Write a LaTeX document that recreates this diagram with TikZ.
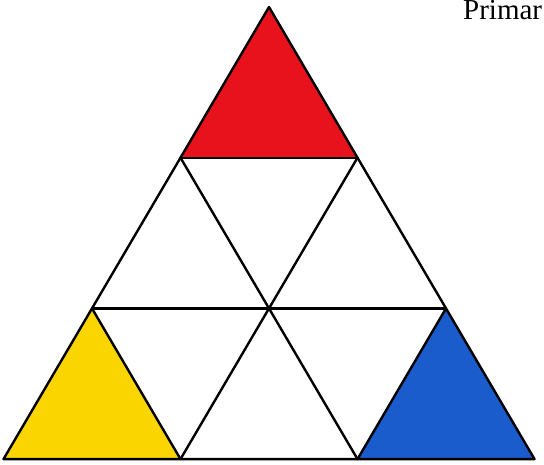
\documentclass[tikz,border=0pt]{standalone}
\usepackage{fontspec}
\setmainfont{Liberation Serif}
\usetikzlibrary{calc}
\definecolor{prired}{HTML}{E8121C}
\definecolor{priyel}{HTML}{FAD500}
\definecolor{priblu}{HTML}{1A5CCB}
\tikzset{
  tri/.style={fill=#1, draw=none},
  edge/.style={draw=black, line width=2.4pt, line join=round, line cap=round},
  lbl/.style={font=\fontsize{29}{32}\selectfont, anchor=base west, inner sep=0pt},
}
\begin{document}
\begin{tikzpicture}[x=1pt,y=-1pt]
  \useasboundingbox (0,0) rectangle (544,464);
  % lattice points, row \i from the apex
  \foreach \i in {0,...,3}{
    \foreach \j in {0,...,\i}{
      \coordinate (p\i\j) at ({269+(\j-\i/2)*177},{7+\i*150.7});
    }
  }
  \fill[tri=prired] (p00) -- (p10) -- (p11) -- cycle;
  \fill[tri=priyel] (p20) -- (p30) -- (p31) -- cycle;
  \fill[tri=priblu] (p22) -- (p32) -- (p33) -- cycle;
  \draw[edge] (p00) -- (p30) -- (p33) -- cycle;
  \draw[edge] (p10) -- (p11); \draw[edge] (p20) -- (p22);
  \draw[edge] (p11) -- (p31); \draw[edge] (p22) -- (p32);
  \draw[edge] (p10) -- (p32); \draw[edge] (p20) -- (p31);
  \node[lbl] (title) at (463,19) {Primar};
\end{tikzpicture}
\end{document}
